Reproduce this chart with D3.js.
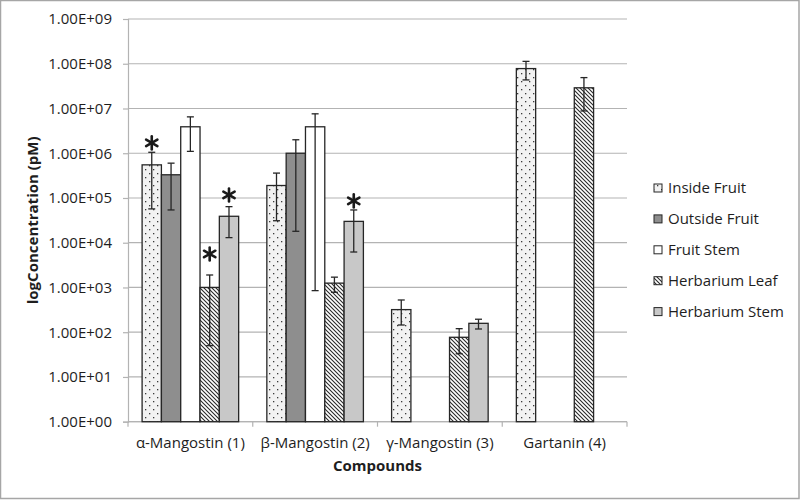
<!DOCTYPE html>
<html><head><meta charset="utf-8">
<script src="https://cdn.jsdelivr.net/npm/d3@7"></script>
<style>html,body{margin:0;padding:0;background:#fff;}svg{display:block;font-family:"Open Sans",sans-serif;}</style>
</head><body>
<svg id="c" width="800" height="501"></svg>
<script>
// ---- data ----
const categories = ["α-Mangostin (1)", "β-Mangostin (2)", "γ-Mangostin (3)", "Gartanin (4)"];
const seriesNames = ["Inside Fruit", "Outside Fruit", "Fruit Stem", "Herbarium Leaf", "Herbarium Stem"];
// values per series (null = no bar), in pM
const insideFruit   = [5.5e5, 1.9e5, 320, 7.8e7];
const outsideFruit  = [3.3e5, 1.0e6, null, null];
const fruitStem     = [3.9e6, 3.9e6, null, null];
const herbariumLeaf = [1.0e3, 1.25e3, 77, 2.9e7];
const herbariumStem = [3.9e4, 3.0e4, 158, null];
// error bar upper / lower bounds
const insideFruitHi   = [1.05e6, 3.6e5, 525, 1.13e8];
const insideFruitLo   = [5.7e4, 3.1e4, 145, 4.35e7];
const outsideFruitHi  = [6.0e5, 2.0e6, null, null];
const outsideFruitLo  = [5.4e4, 1.8e4, null, null];
const fruitStemHi     = [6.5e6, 7.6e6, null, null];
const fruitStemLo     = [1.1e6, 850, null, null];
const herbariumLeafHi = [1.9e3, 1.7e3, 120, 4.9e7];
const herbariumLeafLo = [50, 780, 33, 8.8e6];
const herbariumStemHi = [6.4e4, 5.4e4, 195, null];
const herbariumStemLo = [1.3e4, 6.2e3, 118, null];
// significance markers: category index, series index, level (pM)
const starCat    = [0, 0, 0, 1];
const starSeries = [0, 3, 4, 4];
const starLevel  = [1.7e6, 5.6e3, 1.17e5, 8.6e4];
const yTicks = [1, 10, 100, 1e3, 1e4, 1e5, 1e6, 1e7, 1e8, 1e9];
const yTickLabels = ["1.00E+00","1.00E+01","1.00E+02","1.00E+03","1.00E+04","1.00E+05","1.00E+06","1.00E+07","1.00E+08","1.00E+09"];
const xTitle = "Compounds";
const yTitle = "logConcentration (pM)";

// ---- build ----
const values = [insideFruit, outsideFruit, fruitStem, herbariumLeaf, herbariumStem];
const his = [insideFruitHi, outsideFruitHi, fruitStemHi, herbariumLeafHi, herbariumStemHi];
const los = [insideFruitLo, outsideFruitLo, fruitStemLo, herbariumLeafLo, herbariumStemLo];
const fills = ["url(#dots)", "#8e8e8e", "#ffffff", "url(#stripes)", "#c8c8c8"];

const svg = d3.select("#c");
const L = 128, R = 627, T = 19, B = 421.7;

const defs = svg.append("defs");
const pd = defs.append("pattern").attr("id","dots").attr("patternUnits","userSpaceOnUse")
  .attr("width",8).attr("height",8);
pd.append("rect").attr("width",8).attr("height",8).attr("fill","#f2f2f2");
pd.append("rect").attr("x",1).attr("y",1).attr("width",1.3).attr("height",1.3).attr("fill","#3a3a3a");
pd.append("rect").attr("x",5).attr("y",5).attr("width",1.3).attr("height",1.3).attr("fill","#3a3a3a");
const ps = defs.append("pattern").attr("id","stripes").attr("patternUnits","userSpaceOnUse")
  .attr("width",4).attr("height",4);
ps.append("rect").attr("width",4).attr("height",4).attr("fill","#ffffff");
ps.append("path").attr("d","M-1,-1 L5,5 M-1,3 L1,5 M3,-1 L5,1").attr("stroke","#2a2a2a").attr("stroke-width",1.1);

// border
svg.append("rect").attr("x",0.5).attr("y",0.5).attr("width",798.5).attr("height",498)
  .attr("fill","none").attr("stroke","#a6a6a6").attr("stroke-width",1.5);

const x = d3.scaleBand().domain(categories).range([L, R]).paddingInner(0).paddingOuter(0);
const xs = d3.scaleBand().domain(seriesNames).range([0, x.bandwidth()]).paddingInner(0).paddingOuter(0.73);
const y = d3.scaleLog().domain([1, 1e9]).range([B, T]);

// grid
svg.append("g").selectAll("line").data(yTicks).join("line")
  .attr("x1", L).attr("x2", R).attr("y1", d => y(d)).attr("y2", d => y(d))
  .attr("stroke", "#b3b3b3").attr("stroke-width", 1.2);

// y axis
const yAxis = d3.axisLeft(y).tickValues(yTicks).tickSize(5).tickPadding(11)
  .tickFormat((d,i) => yTickLabels[i]);
const gy = svg.append("g").attr("transform", `translate(${L},0)`).call(yAxis);
gy.select(".domain").attr("stroke","#b3b3b3").attr("stroke-width",1.2);
gy.selectAll(".tick line").attr("stroke","#b3b3b3").attr("stroke-width",1.2);
gy.selectAll(".tick text").attr("font-size",15).attr("font-family","'Open Sans',sans-serif").attr("fill","#1e1e1e");

// x axis
const gx = svg.append("g").attr("transform", `translate(0,${B})`);
gx.append("line").attr("x1",L).attr("x2",R).attr("stroke","#b3b3b3").attr("stroke-width",1.2);
const bounds = categories.map(c => x(c)).concat([R]);
gx.selectAll("line.t").data(bounds).join("line").attr("class","t")
  .attr("x1", d=>d).attr("x2", d=>d).attr("y1",0).attr("y2",5)
  .attr("stroke","#b3b3b3").attr("stroke-width",1.2);
gx.selectAll("text").data(categories).join("text")
  .attr("x", d => x(d) + x.bandwidth()/2).attr("y", 21)
  .attr("dy","0.35em")
  .attr("text-anchor","middle").attr("font-size",15).attr("fill","#1e1e1e").text(d=>d);

// bars
const bars = [];
values.forEach((arr, si) => arr.forEach((v, ci) => {
  if (v != null) bars.push({si, ci, v, hi: his[si][ci], lo: los[si][ci]});
}));
const bx = d => x(categories[d.ci]) + xs(seriesNames[d.si]);
svg.append("g").selectAll("rect").data(bars).join("rect")
  .attr("x", bx).attr("width", xs.bandwidth())
  .attr("y", d => y(d.v)).attr("height", d => B - y(d.v))
  .attr("fill", d => fills[d.si]).attr("stroke","#262626").attr("stroke-width",1.3);

// error bars
const eg = svg.append("g").attr("stroke","#262626").attr("stroke-width",1.3);
bars.forEach(d => {
  const cx = bx(d) + xs.bandwidth()/2;
  eg.append("line").attr("x1",cx).attr("x2",cx).attr("y1",y(d.hi)).attr("y2",y(d.lo));
  eg.append("line").attr("x1",cx-3.5).attr("x2",cx+3.5).attr("y1",y(d.hi)).attr("y2",y(d.hi));
  eg.append("line").attr("x1",cx-3.5).attr("x2",cx+3.5).attr("y1",y(d.lo)).attr("y2",y(d.lo));
});

// stars
const sg = svg.append("g").attr("stroke","#1a1a1a").attr("stroke-width",2.6).attr("stroke-linecap","round");
starCat.forEach((ci, k) => {
  const cx = x(categories[ci]) + xs(seriesNames[starSeries[k]]) + xs.bandwidth()/2;
  const cy = y(starLevel[k]);
  const r = 6.5;
  [90, 30, 150].forEach(a => {
    const rad = a*Math.PI/180;
    sg.append("line").attr("x1", cx - r*Math.cos(rad)).attr("y1", cy - r*Math.sin(rad))
      .attr("x2", cx + r*Math.cos(rad)).attr("y2", cy + r*Math.sin(rad));
  });
});

// titles
svg.append("text").attr("x",(L+R)/2).attr("y",466).attr("dy","0.35em").attr("text-anchor","middle")
  .attr("font-size",15).attr("font-weight","bold").attr("fill","#1e1e1e").text(xTitle);
svg.append("text").attr("transform",`translate(33,${(T+B)/2}) rotate(-90)`).attr("dy","0.35em")
  .attr("text-anchor","middle").attr("font-size",15).attr("font-weight","bold").attr("fill","#1e1e1e").text(yTitle);

// legend
const lg = svg.append("g");
seriesNames.forEach((s, i) => {
  const cy = 188 + i*30.9;
  lg.append("rect").attr("x",654).attr("y",cy-4).attr("width",8).attr("height",8)
    .attr("fill", fills[i]).attr("stroke","#262626").attr("stroke-width",1);
  lg.append("text").attr("x",668).attr("y",cy).attr("dy","0.35em").attr("font-size",15)
    .attr("fill","#1e1e1e").text(s);
});
</script>
</body></html>
